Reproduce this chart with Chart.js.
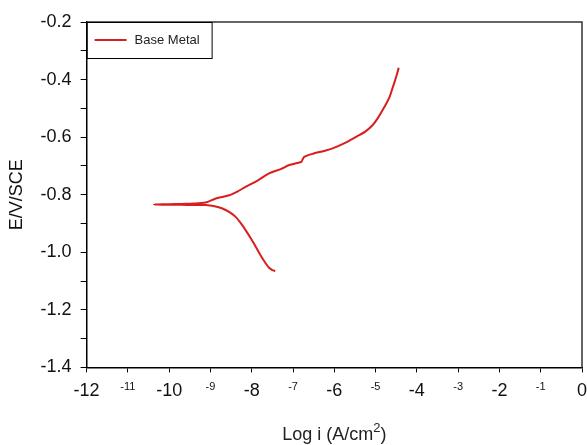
<!DOCTYPE html>
<html>
<head>
<meta charset="utf-8">
<script src="https://cdn.jsdelivr.net/npm/chart.js@4.4.0/dist/chart.umd.min.js"></script>
<style>
    body { margin: 0; background: #fff; }
    #wrap { width: 587px; height: 445px; }
</style>
</head>
<body>
<div id="wrap"><canvas id="grafico"></canvas></div>
<script>
// curva de polarizacion, en orden de trazado (rama catodica -> anodica)
const logI = [-7.43, -7.50, -7.58, -7.66, -7.78, -7.90, -8.02, -8.15, -8.27, -8.39, -8.55, -8.71, -8.90, -9.12,
              -9.40, -9.70, -10.00, -10.37, -10.00, -9.70, -9.40, -9.12, -8.87, -8.55, -8.35, -8.15, -7.85,
              -7.58, -7.30, -7.09, -6.90, -6.80, -6.77, -6.72, -6.50, -6.25, -6.04, -5.75, -5.47, -5.25,
              -5.07, -4.95, -4.83, -4.74, -4.66, -4.60, -4.54, -4.49, -4.44];
const potencial = [-1.065, -1.062, -1.054, -1.039, -1.012, -0.982, -0.952, -0.923, -0.898, -0.877, -0.860, -0.848, -0.840, -0.836,
                   -0.836, -0.835, -0.835, -0.834, -0.833, -0.832, -0.831, -0.827, -0.813, -0.802, -0.789, -0.773, -0.750,
                   -0.726, -0.711, -0.697, -0.690, -0.686, -0.678, -0.668, -0.657, -0.648, -0.639, -0.621, -0.599, -0.581,
                   -0.558, -0.535, -0.506, -0.483, -0.460, -0.434, -0.408, -0.385, -0.359];
const etiqueta = 'Base Metal';
const xTicks = [-12, -11, -10, -9, -8, -7, -6, -5, -4, -3, -2, -1, 0];
const yTicks = [-1.4, -1.2, -1.0, -0.8, -0.6, -0.4, -0.2];

const FUENTE = 'Liberation Sans, Arial, sans-serif';

const puntos = logI.map((x, i) => ({ x: x, y: potencial[i] }));

// caja del grafico, leyenda interna y titulo del eje x con superindice
const extras = {
    id: 'extras',
    afterDraw(chart) {
        const { ctx, chartArea: a } = chart;
        ctx.save();
        ctx.strokeStyle = '#333';
        ctx.lineWidth = 1.5;
        ctx.beginPath();
        ctx.moveTo(a.left, a.top);
        ctx.lineTo(a.right, a.top);
        ctx.lineTo(a.right, a.bottom);
        ctx.stroke();

        // leyenda
        ctx.strokeStyle = '#000';
        ctx.lineWidth = 1;
        ctx.strokeRect(a.left + 0.5, a.top + 0.5, 125, 36);
        ctx.strokeStyle = '#d81e1e';
        ctx.lineWidth = 2;
        ctx.beginPath();
        ctx.moveTo(a.left + 8, a.top + 18);
        ctx.lineTo(a.left + 40, a.top + 18);
        ctx.stroke();
        ctx.fillStyle = '#222';
        ctx.font = '13px ' + FUENTE;
        ctx.textBaseline = 'middle';
        ctx.fillText(etiqueta, a.left + 48, a.top + 18);

        // titulo eje x
        ctx.textBaseline = 'alphabetic';
        const t1 = 'Log i (A/cm', t3 = ')';
        ctx.font = '18px ' + FUENTE;
        const w1 = ctx.measureText(t1).width;
        const w3 = ctx.measureText(t3).width;
        ctx.font = '13px ' + FUENTE;
        const w2 = ctx.measureText('2').width;
        let x = (a.left + a.right) / 2 - (w1 + w2 + w3) / 2;
        const base = 440;
        ctx.font = '18px ' + FUENTE;
        ctx.fillText(t1, x, base);
        x += w1;
        ctx.font = '13px ' + FUENTE;
        ctx.fillText('2', x, base - 8);
        x += w2;
        ctx.font = '18px ' + FUENTE;
        ctx.fillText(t3, x, base);
        ctx.restore();
    }
};

const ctx = document.getElementById('grafico').getContext('2d');
new Chart(ctx, {
    type: 'scatter',
    data: {
        datasets: [{
            label: etiqueta,
            data: puntos,
            showLine: true,
            borderColor: '#d81e1e',
            borderWidth: 2,
            pointRadius: 0,
            tension: 0.3
        }]
    },
    options: {
        responsive: true,
        maintainAspectRatio: false,
        animation: false,
        layout: { padding: { top: 22, right: 0, bottom: 35, left: 6 } },
        plugins: {
            legend: { display: false },
            tooltip: { enabled: false }
        },
        scales: {
            x: {
                type: 'linear',
                min: -12,
                max: 0,
                afterBuildTicks: (scale) => { scale.ticks = xTicks.map(v => ({ value: v })); },
                afterFit: (scale) => { scale.paddingRight = 5; },
                grid: { drawOnChartArea: false, drawTicks: true, tickLength: 5, color: '#000' },
                border: { color: '#000', width: 1.5 },
                ticks: {
                    autoSkip: false,
                    maxRotation: 0,
                    padding: 8,
                    color: '#111',
                    font: (c) => ({ family: FUENTE, size: (c.tick && c.tick.value % 2 !== 0) ? 11 : 18 }),
                    callback: (v) => String(v)
                }
            },
            y: {
                type: 'linear',
                min: -1.4,
                max: -0.2,
                afterBuildTicks: (scale) => {
                    const t = [];
                    for (let i = 0; i < yTicks.length; i++) {
                        t.push({ value: yTicks[i] });
                        if (i < yTicks.length - 1) t.push({ value: +(yTicks[i] + 0.1).toFixed(1) });
                    }
                    scale.ticks = t;
                },
                grid: { drawOnChartArea: false, drawTicks: true, tickLength: 6, color: '#000' },
                border: { color: '#000', width: 1.5 },
                title: {
                    display: true,
                    text: 'E/V/SCE',
                    color: '#111',
                    font: { family: FUENTE, size: 18 },
                    padding: { top: 0, bottom: 4 }
                },
                ticks: {
                    autoSkip: false,
                    padding: 9,
                    color: '#111',
                    font: { family: FUENTE, size: 18 },
                    callback: (v) => yTicks.some(t => Math.abs(t - v) < 1e-6) ? v.toFixed(1) : ''
                }
            }
        }
    },
    plugins: [extras]
});
</script>
</body>
</html>
